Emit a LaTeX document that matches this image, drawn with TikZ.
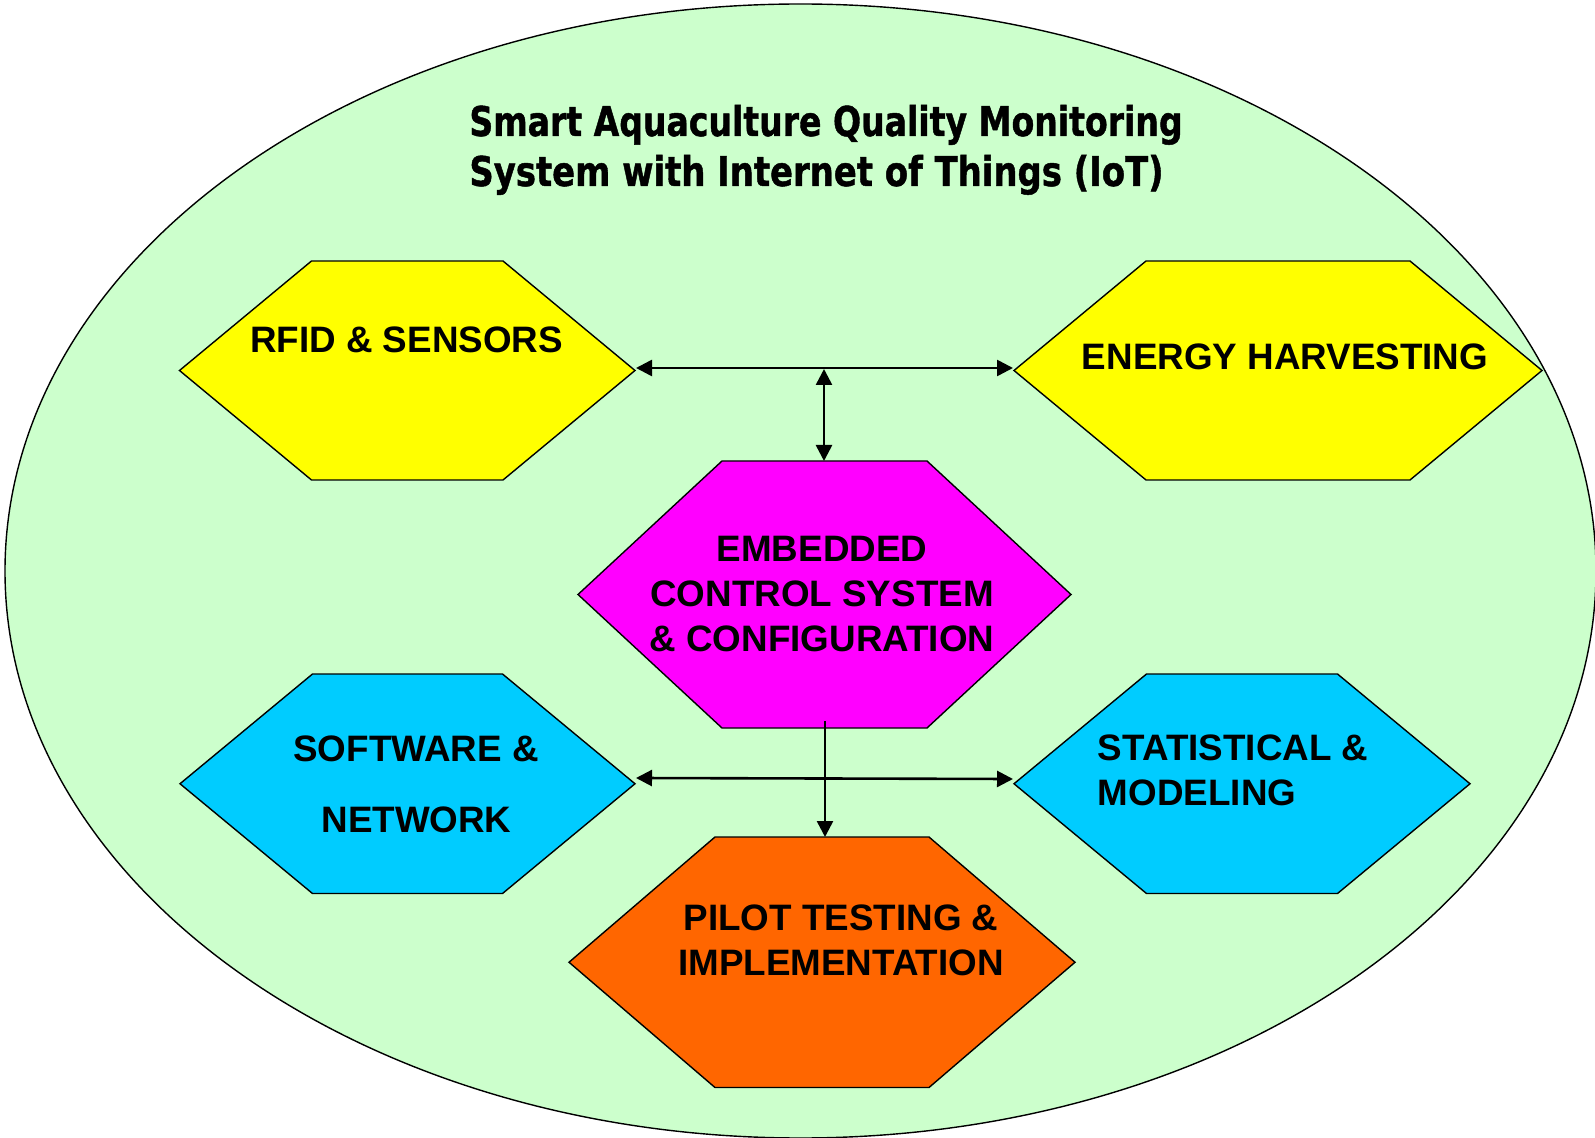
\documentclass[tikz,border=0pt]{standalone}
\usepackage{fontspec}
\usepackage{graphicx}
\setmainfont{Liberation Sans}
\newfontfamily\titlefont{DejaVu Sans}[BoldFeatures={FakeBold=1.2}]
\usetikzlibrary{arrows.meta}

\definecolor{pond}{HTML}{CCFFCC}
\definecolor{hexyellow}{HTML}{FFFF00}
\definecolor{hexmagenta}{HTML}{FF00FF}
\definecolor{hexcyan}{HTML}{00CCFF}
\definecolor{hexorange}{HTML}{FF6600}

\tikzset{
  hexa/.style={draw=black, line width=0.7pt, line join=miter},
  boxtext/.style={font=\fontsize{18.4}{22}\selectfont\bfseries, inner sep=0pt, anchor=base},
  titletext/.style={font=\titlefont\fontsize{20.5}{25}\selectfont\bfseries, inner sep=0pt, anchor=base west},
  conn/.style={line width=1.3pt},
  >={Triangle[length=8pt,width=8pt]}
}

% #1 name, #2 fill, #3 left x, #4 right x, #5 inset, #6 top y, #7 bottom y
\newcommand\hexbox[7]{%
  \coordinate (#1W)  at (#3, {(#6+#7)/2});
  \coordinate (#1NW) at ({#3+#5}, #6);
  \coordinate (#1NE) at ({#4-#5}, #6);
  \coordinate (#1E)  at (#4, {(#6+#7)/2});
  \coordinate (#1SE) at ({#4-#5}, #7);
  \coordinate (#1SW) at ({#3+#5}, #7);
  \path[hexa, fill=#2] (#1W) -- (#1NW) -- (#1NE) -- (#1E) -- (#1SE) -- (#1SW) -- cycle;
}

\begin{document}
\begin{tikzpicture}[x=0.5pt, y=-0.5pt]
  \useasboundingbox (0,0) rectangle (1595,1138);
  \begin{scope}
    \clip (0,0) rectangle (1595,1138);
    % the pond: outer ellipse
    \path[draw=black, line width=0.7pt, fill=pond] (800.5,571) ellipse [x radius=795.5, y radius=567];
  \end{scope}

  % title
  \node[titletext] (titleA) at (469,136) {\scalebox{0.807}[1]{Smart Aquaculture Quality Monitoring}};
  \node[titletext] (titleB) at (469,186) {\scalebox{0.826}[1]{System with Internet of Things (IoT)}};

  % hexagonal blocks
  \hexbox{rfid}{hexyellow}{179.5}{635}{132}{261}{480}
  \hexbox{energy}{hexyellow}{1014}{1542}{132}{261}{480}
  \hexbox{emb}{hexmagenta}{578}{1071}{144}{461}{728}
  \hexbox{soft}{hexcyan}{180}{635}{132.5}{674}{893.5}
  \hexbox{stat}{hexcyan}{1014}{1470}{132.5}{674}{893.5}
  \hexbox{pilot}{hexorange}{569}{1075}{146}{837}{1087.5}

  % block labels
  \node[boxtext] (rfidtxt) at (406.5,353) {RFID \& SENSORS};
  \node[boxtext] (energytxt) at (1285,370) {ENERGY HARVESTING};
  \node[boxtext] (embA) at (822,561.5) {EMBEDDED};
  \node[boxtext] (embB) at (822,606.5) {CONTROL SYSTEM};
  \node[boxtext] (embC) at (822,651.5) {\& CONFIGURATION};
  \node[boxtext] (softA) at (416,761) {SOFTWARE \&};
  \node[boxtext] (softB) at (416.5,832) {NETWORK};
  \node[boxtext, anchor=base west] (statA) at (1097.5,760) {STATISTICAL \&};
  \node[boxtext, anchor=base west] (statB) at (1097.5,805) {MODELING};
  \node[boxtext] (pilotA) at (841,930) {PILOT TESTING \&};
  \node[boxtext] (pilotB) at (841,975) {IMPLEMENTATION};

  % connector end points
  \coordinate (rfidTip) at (636,368);
  \coordinate (energyTip) at (1013,368);
  \coordinate (topHub) at (824,369);
  \coordinate (embTop) at (824,461);
  \coordinate (embBase) at (825,721);
  \coordinate (pilotTop) at (825,837);
  \coordinate (softTip) at (636,778);
  \coordinate (statTip) at (1013,779);

  % connectors
  \draw[conn, <->] (rfidTip) -- (energyTip);
  \draw[conn, <->] (topHub) -- (embTop);
  \draw[conn, ->] (embBase) -- (pilotTop);
  \draw[conn, <->] (softTip) -- (statTip);
\end{tikzpicture}
\end{document}
